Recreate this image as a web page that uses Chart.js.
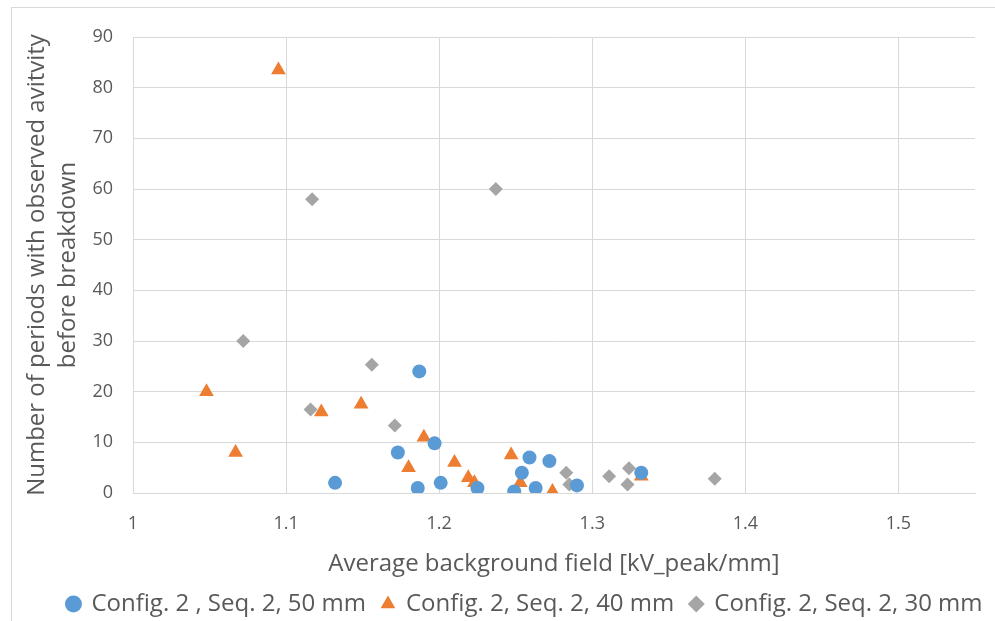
<!DOCTYPE html>
<html>
<head>
<meta charset="utf-8">
<script src="https://cdn.jsdelivr.net/npm/chart.js@4/dist/chart.umd.min.js"></script>
<style>
  body { margin: 0; background: #fff; overflow: hidden; }
  #frame { position: absolute; left: 11px; top: 7px; width: 1000px; height: 700px; border: 1px solid #d9d9d9; }
  #wrap { position: absolute; left: 0; top: 0; width: 995px; height: 621px; }
</style>
</head>
<body>
<div id="frame"></div>
<div id="wrap"><canvas id="graphic"></canvas></div>
<script>
// field [kV_peak/mm] and number of periods
const field50 = [1.132, 1.173, 1.187, 1.186, 1.197, 1.201, 1.225, 1.249, 1.254, 1.259, 1.263, 1.272, 1.290, 1.332];
const periods50 = [2, 8, 24, 1, 9.8, 2, 1, 0.3, 4, 7, 1, 6.3, 1.5, 4];

const field40 = [1.095, 1.048, 1.067, 1.123, 1.149, 1.190, 1.180, 1.210, 1.219, 1.223, 1.247, 1.253, 1.274, 1.332];
const periods40 = [83.5, 20, 8, 16, 17.5, 11, 5, 6, 3, 2, 7.5, 2, 0.3, 3.3];

const field30 = [1.072, 1.117, 1.237, 1.156, 1.116, 1.171, 1.283, 1.285, 1.311, 1.324, 1.323, 1.380];
const periods30 = [30, 58, 60, 25.3, 16.5, 13.3, 4, 1.7, 3.3, 4.9, 1.7, 2.8];

const seriesNames = ['Config. 2 , Seq. 2, 50 mm', 'Config. 2, Seq. 2, 40 mm', 'Config. 2, Seq. 2, 30 mm'];
const xTickLabels = ['1', '1.1', '1.2', '1.3', '1.4', '1.5'];

const toPoints = (xs, ys) => xs.map((x, i) => ({ x: x, y: ys[i] }));

const textGray = '#595959';
const gridGray = '#d9d9d9';

// the legend sits a bit right of centre in the original
const shiftLegend = {
    id: 'shiftLegend',
    afterLayout(chart) {
        chart.legend.left += 27;
        chart.legend.right += 27;
    }
};

const data = {
    datasets: [
        {
            label: seriesNames[0],
            data: toPoints(field50, periods50),
            pointStyle: 'circle',
            pointRadius: 7,
            backgroundColor: '#5b9bd5',
            borderColor: '#5b9bd5',
            borderWidth: 0
        },
        {
            label: seriesNames[1],
            data: toPoints(field40, periods40),
            pointStyle: 'triangle',
            pointRadius: 8.5,
            backgroundColor: '#ed7d31',
            borderColor: '#ed7d31',
            borderWidth: 0
        },
        {
            label: seriesNames[2],
            data: toPoints(field30, periods30),
            pointStyle: 'rectRot',
            pointRadius: 7,
            backgroundColor: '#a5a5a5',
            borderColor: '#a5a5a5',
            borderWidth: 0
        }
    ]
};

const config = {
    type: 'scatter',
    data: data,
    plugins: [shiftLegend],
    options: {
        responsive: true,
        maintainAspectRatio: false,
        animation: false,
        layout: { padding: { left: 21, right: 20, top: 37, bottom: -5 } },
        scales: {
            x: {
                type: 'linear',
                min: 1,
                max: 1.55,
                afterBuildTicks: axis => {
                    axis.ticks = xTickLabels.map(t => ({ value: parseFloat(t) }));
                },
                afterFit: axis => { axis.height = 83; },
                ticks: {
                    color: textGray,
                    font: { family: 'Liberation Sans Narrow, Open Sans', size: 18 },
                    padding: 20,
                    callback: v => xTickLabels.find(t => parseFloat(t) === v) ?? ''
                },
                grid: { color: gridGray, drawTicks: false },
                border: { color: gridGray },
                title: {
                    display: true,
                    text: 'Average background field [kV_peak/mm]',
                    color: textGray,
                    font: { family: 'Open Sans', size: 24 },
                    padding: { top: 0, bottom: -3 }
                }
            },
            y: {
                min: 0,
                max: 90,
                afterFit: axis => { axis.width = 112; },
                ticks: {
                    stepSize: 10,
                    color: textGray,
                    font: { family: 'Open Sans', size: 18 },
                    padding: 20
                },
                grid: { color: gridGray, drawTicks: false },
                border: { color: gridGray },
                title: {
                    display: true,
                    text: ['Number of periods with observed avitvity', 'before breakdown'],
                    color: textGray,
                    font: { family: 'Open Sans', size: 24, lineHeight: 1.32 },
                    padding: { top: 0, bottom: 0 }
                }
            }
        },
        plugins: {
            legend: {
                position: 'bottom',
                labels: {
                    usePointStyle: true,
                    boxWidth: 12,
                    boxHeight: 12,
                    color: textGray,
                    font: { family: 'Open Sans', size: 24 },
                    padding: 16
                }
            },
            tooltip: { enabled: false }
        }
    }
};

new Chart(document.querySelector('#graphic'), config);
</script>
</body>
</html>
